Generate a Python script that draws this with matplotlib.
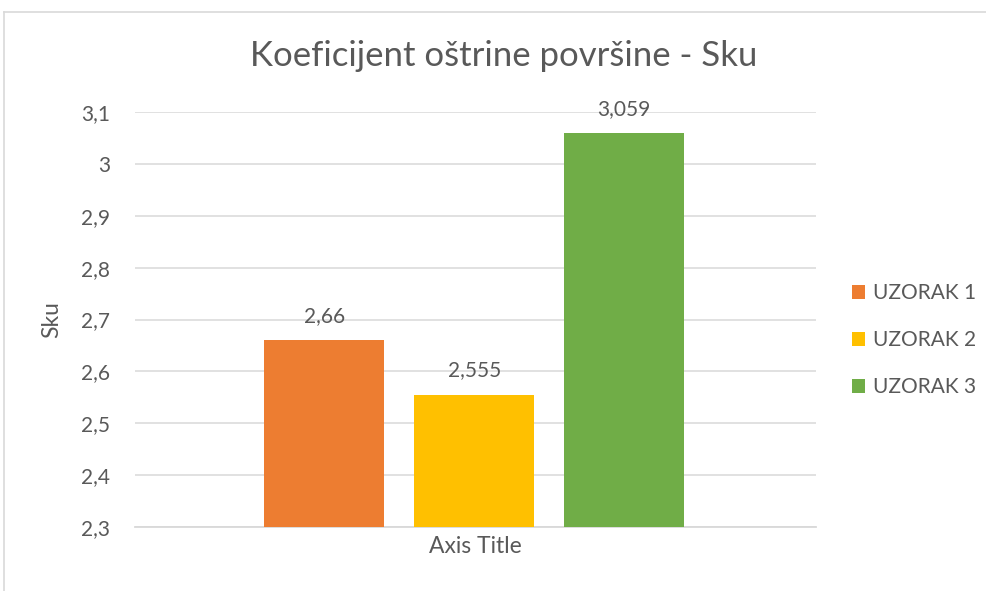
import matplotlib
import matplotlib.pyplot as plt
from matplotlib.ticker import FuncFormatter, MultipleLocator
from matplotlib.lines import Line2D

matplotlib.use('Agg')

series = ['UZORAK 1', 'UZORAK 2', 'UZORAK 3']
values = [2.66, 2.555, 3.059]
value_labels = ['2,66', '2,555', '3,059']
colors = ['#ED7D31', '#FFC000', '#70AD47']

plt.rcParams['font.family'] = ['Lato', 'DejaVu Sans']
text_col = '#595959'

fig = plt.figure(figsize=(9.87, 5.91), dpi=100)
ax = fig.add_axes([0.137, 0.108, 0.69, 0.7025])

# chart border (Excel style)
fig.add_artist(Line2D([4 / 987, 4 / 987], [0, 1 - 12 / 591], transform=fig.transFigure, color='#d9d9d9', lw=1.2))
fig.add_artist(Line2D([4 / 987, 1], [1 - 12 / 591, 1 - 12 / 591], transform=fig.transFigure, color='#d9d9d9', lw=1.2))

positions = [-1, 0, 1]
for pos, val, lab, col, name in zip(positions, values, value_labels, colors, series):
    ax.bar(pos, val - 2.3, bottom=2.3, width=0.8, color=col, label=name, zorder=3)
    ax.text(pos, val + 0.028, lab, ha='center', va='bottom', fontsize=15, color=text_col)

ax.set_ylim(2.3, 3.1)
ax.set_xlim(-2.26, 2.28)
ax.yaxis.set_major_locator(MultipleLocator(0.1))
ax.yaxis.set_major_formatter(FuncFormatter(lambda v, p: ('%g' % round(v, 2)).replace('.', ',')))
ax.grid(axis='y', color='#d9d9d9', lw=1.1, zorder=0)
ax.set_xticks([])
for s in ['top', 'right', 'left']:
    ax.spines[s].set_visible(False)
ax.spines['bottom'].set_color('#d9d9d9')
ax.spines['bottom'].set_linewidth(1.3)
ax.tick_params(axis='y', length=0, labelsize=15, labelcolor=text_col, pad=18)

ax.set_xlabel('Axis Title', fontsize=16.5, color=text_col, labelpad=6)
ax.set_ylabel('Sku', fontsize=16.5, color=text_col, labelpad=14)
fig.text(0.51, 0.905, 'Koeficijent oštrine površine - Sku', ha='center', va='center', fontsize=25, color=text_col)

ax.legend(loc='center left', bbox_to_anchor=(1.025, 0.45), frameon=False, fontsize=15,
          handlelength=0.6, handleheight=0.6, labelspacing=1.3, handletextpad=0.4,
          labelcolor=text_col)

fig.savefig('out.png', dpi=100)
